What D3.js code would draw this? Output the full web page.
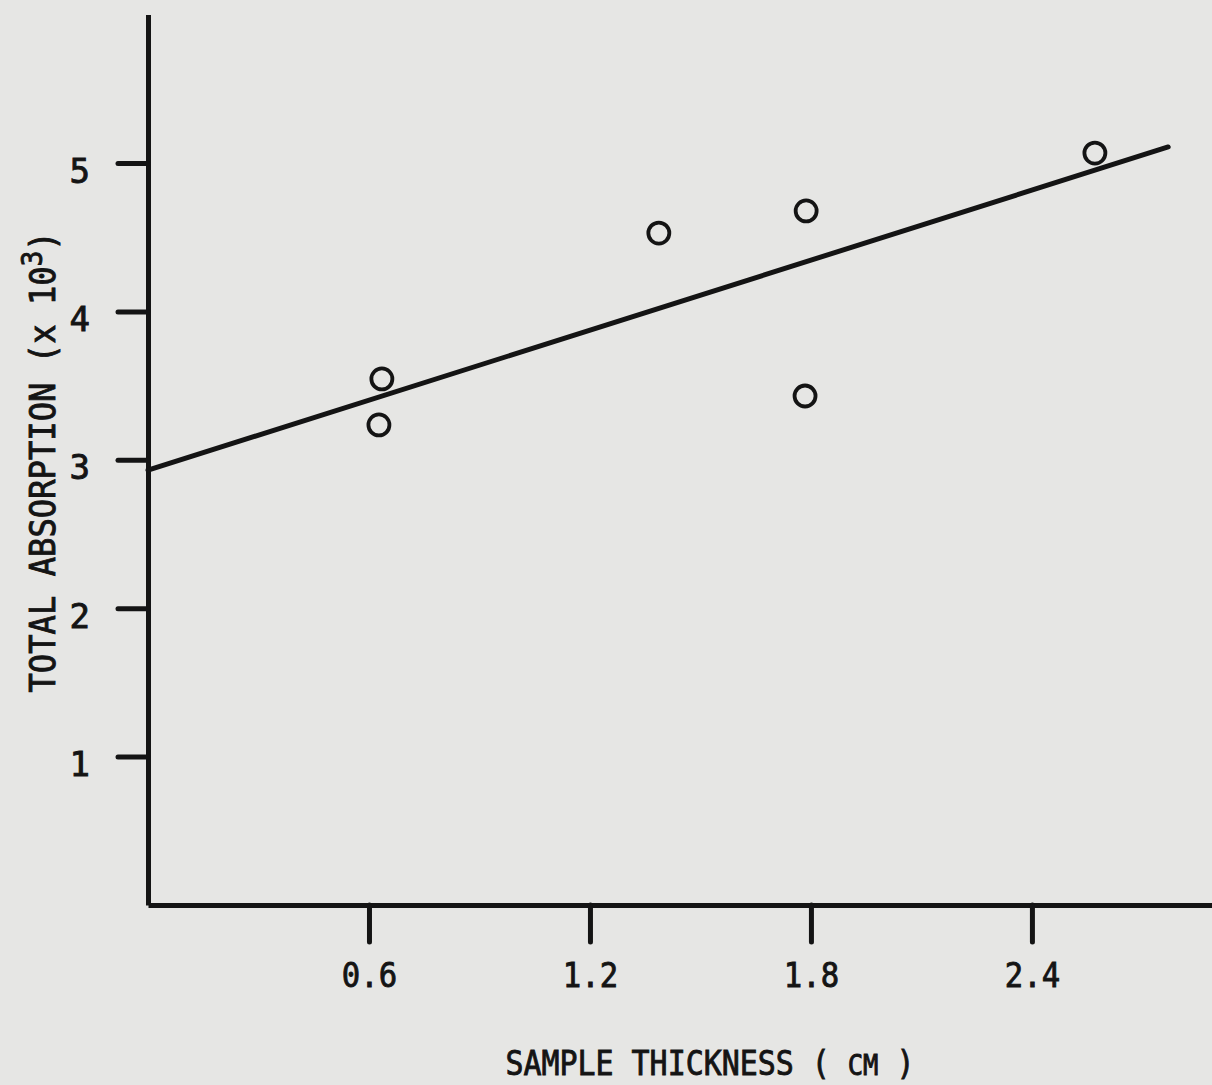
<!DOCTYPE html>
<html>
<head>
<meta charset="utf-8">
<script src="https://cdn.jsdelivr.net/npm/d3@7"></script>
<style>
  html, body { margin: 0; padding: 0; background: #e6e6e4; }
  svg { display: block; }
  text { font-family: "DejaVu Sans Mono", monospace; fill: #141414; stroke: #141414; stroke-width: 0.9px; }
</style>
</head>
<body>
<script>
const thickness = [0.635, 0.627, 1.387, 1.787, 1.784, 2.571]
const absorption = [3.545, 3.235, 4.528, 4.677, 3.43, 5.067]

// fitted line end points
const fitX = [0.0, 2.77]
const fitY = [2.93, 5.108]

const xTicks = [0.6, 1.2, 1.8, 2.4]
const yTicks = [1, 2, 3, 4, 5]

const width = 1212, height = 1085
const ink = '#141414'

const svg = d3.select('body').append('svg')
    .attr('width', width)
    .attr('height', height)

svg.append('rect')
    .attr('width', width)
    .attr('height', height)
    .attr('fill', '#e6e6e4')

// scales (domain runs past the last tick so the axis lines reach the edges)
const xScale = d3.scaleLinear()
    .domain([0, 2.9])
    .range([148, 148 + 2.9 * 368.3])

const yScale = d3.scaleLinear()
    .domain([0, 6])
    .range([905, 905 - 6 * 148.4])

// x axis
const xAxis = svg.append('g')
    .attr('transform', 'translate(0,905)')
    .call(d3.axisBottom(xScale)
        .tickValues(xTicks)
        .tickSize(37)
        .tickSizeOuter(0)
        .tickPadding(21)
        .tickFormat(d3.format('.1f')))

xAxis.select('.domain').attr('stroke', ink).attr('stroke-width', 5)
xAxis.selectAll('.tick line').attr('stroke', ink).attr('stroke-width', 5).attr('stroke-linecap', 'round')
xAxis.selectAll('.tick text')
    .attr('font-size', '34px')
    .attr('fill', ink)
    .attr('font-family', null)
    .attr('transform', 'scale(0.9,1)')

// y axis
const yAxis = svg.append('g')
    .attr('transform', 'translate(148,0)')
    .call(d3.axisLeft(yScale)
        .tickValues(yTicks)
        .tickSize(30)
        .tickSizeOuter(0)
        .tickPadding(28)
        .tickFormat(d3.format('d')))

yAxis.select('.domain').attr('stroke', ink).attr('stroke-width', 5)
yAxis.selectAll('.tick line').attr('stroke', ink).attr('stroke-width', 5).attr('stroke-linecap', 'round')
yAxis.selectAll('.tick text')
    .attr('font-size', '34px')
    .attr('dy', '0.56em')
    .attr('fill', ink)
    .attr('font-family', null)

// fitted line
const line = d3.line()
    .x(d => xScale(d[0]))
    .y(d => yScale(d[1]))

svg.append('path')
    .datum(d3.zip(fitX, fitY))
    .attr('d', line)
    .attr('fill', 'none')
    .attr('stroke', ink)
    .attr('stroke-width', 5)
    .attr('stroke-linecap', 'round')

// open circles
svg.selectAll('.dot')
    .data(d3.zip(thickness, absorption))
    .enter()
    .append('circle')
        .attr('class', 'dot')
        .attr('cx', d => xScale(d[0]))
        .attr('cy', d => yScale(d[1]))
        .attr('r', 10.5)
        .attr('fill', 'none')
        .attr('stroke', ink)
        .attr('stroke-width', 3.8)

// axis titles
const xTitle = svg.append('text')
    .attr('transform', 'translate(710,1075) scale(0.88,1)')
    .attr('text-anchor', 'middle')
    .attr('font-size', '34px')
xTitle.append('tspan').text('SAMPLE THICKNESS ( ')
xTitle.append('tspan').attr('font-size', '29px').text('CM')
xTitle.append('tspan').text(' )')

const yTitle = svg.append('text')
    .attr('transform', 'translate(55,462) rotate(-90) scale(0.92,1)')
    .attr('text-anchor', 'middle')
    .attr('font-size', '35px')
yTitle.append('tspan').text('TOTAL ABSORPTION (x 10')
yTitle.append('tspan').attr('font-size', '28px').attr('dy', '-13').text('3')
yTitle.append('tspan').attr('dy', '13').text(')')
</script>
</body>
</html>
